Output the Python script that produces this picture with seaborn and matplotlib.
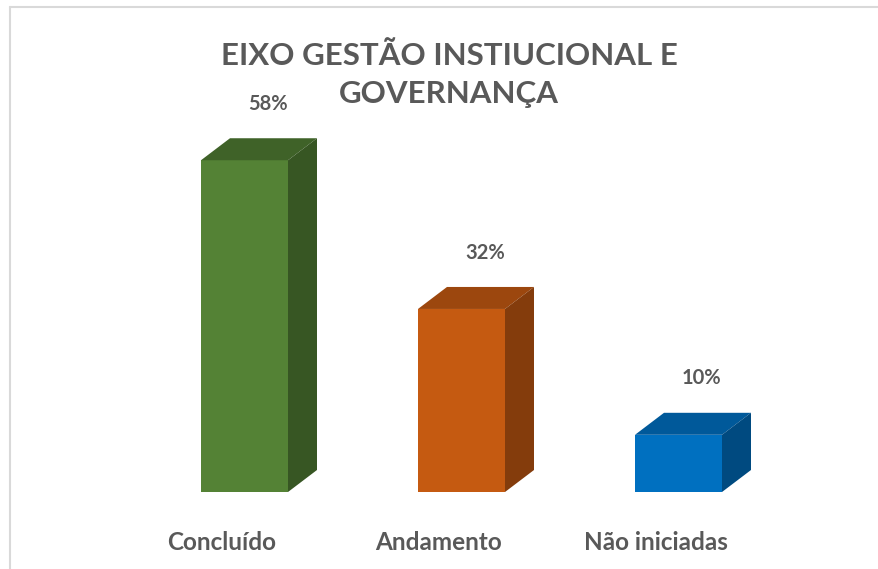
import numpy as np
import matplotlib
matplotlib.use("Agg")
import matplotlib.pyplot as plt
from matplotlib.patches import Polygon
import seaborn as sns

# ---------------------------------------------------------------------------
# Data
# ---------------------------------------------------------------------------
categories = ["Concluído", "Andamento", "Não iniciadas"]
percentages = [58, 32, 10]
front_colors = ["#548235", "#C55A11", "#0070C0"]
top_colors = ["#3F6228", "#9C470E", "#00599A"]
side_colors = ["#375623", "#843C0C", "#004A80"]
title = "EIXO GESTÃO INSTIUCIONAL E\nGOVERNANÇA"

# ---------------------------------------------------------------------------
# Layout (pixel mapping of the reference)
# ---------------------------------------------------------------------------
W, H = 879, 569
base_px = 492          # y pixel of value 0
px_per_unit = 5.72     # y pixels per percentage point
first_px = 244.5       # x pixel of first bar centre
step_px = 217          # x pixels between bar centres
bar_w = 87 / step_px
dx = 29 / step_px      # depth offset x (3D look)
dy = 22 / px_per_unit  # depth offset y

sns.set_theme(style="white")
plt.rcParams["font.family"] = ["Lato", "DejaVu Sans"]
text_color = "#595959"

fig = plt.figure(figsize=(W / 100, H / 100), dpi=100)
ax = fig.add_axes([0, 0, 1, 1])

sns.barplot(x=categories, y=percentages, hue=categories, palette=front_colors,
            width=bar_w, legend=False, ax=ax, saturation=1, linewidth=0)

for i, v in enumerate(percentages):
    x0, x1 = i - bar_w / 2, i + bar_w / 2
    top = [(x0, v), (x0 + dx, v + dy), (x1 + dx, v + dy), (x1, v)]
    side = [(x1, 0), (x1, v), (x1 + dx, v + dy), (x1 + dx, dy)]
    ax.add_patch(Polygon(top, closed=True, facecolor=top_colors[i], edgecolor="none"))
    ax.add_patch(Polygon(side, closed=True, facecolor=side_colors[i], edgecolor="none"))
    ax.text(i + 0.108, v + dy + 6, f"{v}%", ha="center", va="center",
            fontsize=14.5, fontweight="bold", color=text_color)
    ax.text(i - 0.105, -8.9, categories[i], ha="center", va="center",
            fontsize=17.5, fontweight="bold", color=text_color)

ax.set_xlim(-first_px / step_px, (W - first_px) / step_px)
ax.set_ylim((base_px - H) / px_per_unit, base_px / px_per_unit)
ax.axis("off")

fig.text(449 / W, 1 - 75 / H, title, ha="center", va="center", fontsize=22.5,
         fontweight="bold", color=text_color, linespacing=1.42)

# thin chart-area border (top and left visible in the crop)
fig.add_artist(plt.Line2D([9.5 / W, 1], [1 - 6.5 / H, 1 - 6.5 / H], color="#D9D9D9", lw=1.5))
fig.add_artist(plt.Line2D([9.5 / W, 9.5 / W], [0, 1 - 6.5 / H], color="#D9D9D9", lw=1.5))

fig.savefig("out.png", dpi=100)
